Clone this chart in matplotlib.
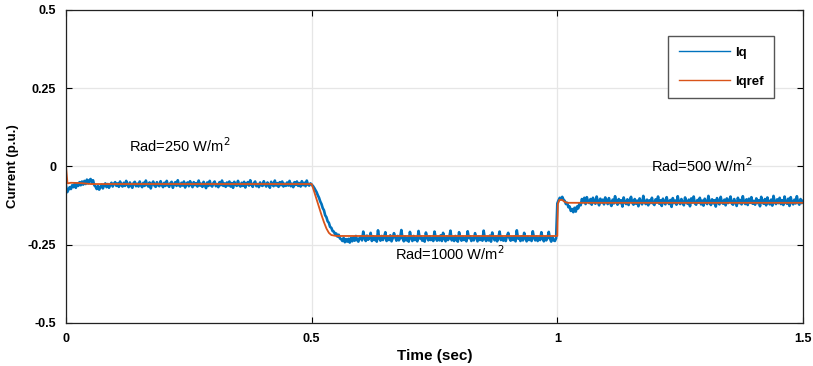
import matplotlib.pyplot as plt
import numpy as np

plt.rcParams['font.family'] = ['Liberation Sans', 'DejaVu Sans']

# Iq samples every 2.5 ms from 0 to 1.5 s, in milli p.u.
iq_milli = [
    -62, -82, -74, -66, -72, -60, -66, -56, -68, -54, -62, -50, -60, -48, -58, -46, -56, -42, -54, -44,
    -40, -52, -44, -60, -64, -72, -62, -74, -66, -58, -70, -60, -54, -66, -56, -68, -58, -52, -64, -55,
    -50, -62, -54, -65, -48, -60, -64, -52, -62, -46, -58, -66, -51, -61, -68, -53, -49, -63, -55, -64,
    -48, -60, -66, -52, -62, -45, -58, -64, -51, -70, -55, -48, -61, -65, -50, -60, -63, -47, -58, -66,
    -52, -62, -46, -60, -65, -53, -49, -68, -56, -50, -62, -44, -60, -64, -52, -61, -48, -67, -55, -51,
    -63, -47, -58, -66, -50, -60, -53, -64, -45, -61, -55, -65, -49, -58, -69, -51, -62, -46, -60, -64,
    -53, -48, -63, -56, -66, -50, -60, -45, -62, -54, -65, -51, -61, -48, -64, -53, -68, -49, -58, -62,
    -46, -60, -64, -52, -62, -49, -67, -55, -50, -61, -44, -58, -65, -53, -48, -63, -56, -66, -51, -60,
    -62, -47, -57, -64, -51, -60, -68, -49, -58, -63, -45, -61, -53, -65, -50, -60, -48, -64, -55, -62,
    -51, -61, -46, -63, -55, -66, -50, -59, -48, -62, -53, -64, -47, -60, -52, -63, -45, -58, -61, -54,
    -58, -62, -68, -75, -82, -92, -100, -112, -120, -133, -140, -156, -162, -175, -180, -193, -196, -206, -208, -216,
    -214, -224, -218, -230, -232, -238, -228, -242, -232, -240, -231, -243, -228, -239, -226, -237, -222, -235, -240, -228,
    -224, -236, -208, -227, -238, -221, -234, -228, -212, -238, -223, -235, -226, -240, -204, -229, -237, -222, -235, -225,
    -210, -238, -227, -235, -220, -239, -229, -213, -226, -237, -222, -236, -228, -203, -230, -239, -224, -236, -227, -240,
    -209, -228, -238, -222, -235, -227, -239, -206, -230, -224, -237, -228, -240, -211, -226, -236, -223, -235, -228, -238,
    -208, -227, -237, -225, -236, -220, -238, -212, -229, -239, -224, -235, -227, -205, -236, -226, -238, -222, -234, -240,
    -210, -228, -237, -224, -235, -227, -239, -207, -229, -223, -238, -228, -236, -213, -226, -239, -224, -235, -227, -237,
    -205, -230, -238, -225, -236, -221, -240, -211, -228, -236, -224, -239, -227, -208, -235, -225, -237, -228, -238, -222,
    -212, -229, -237, -226, -235, -224, -239, -204, -230, -227, -238, -223, -236, -212, -228, -239, -225, -235, -227, -238,
    -207, -228, -236, -224, -238, -227, -235, -210, -229, -239, -225, -236, -228, -209, -230, -240, -226, -236, -238, -229,
    -118, -108, -100, -104, -97, -106, -110, -120, -116, -130, -128, -142, -136, -146, -132, -144, -128, -134, -118, -124,
    -104, -114, -100, -120, -98, -112, -117, -104, -122, -100, -114, -119, -96, -112, -124, -103, -115, -106, -121, -99,
    -109, -120, -101, -116, -126, -106, -118, -95, -114, -122, -104, -117, -108, -128, -99, -115, -120, -105, -123, -107,
    -97, -116, -122, -104, -119, -109, -127, -102, -115, -121, -94, -114, -120, -106, -124, -108, -117, -100, -118, -123,
    -105, -115, -96, -119, -108, -126, -103, -116, -121, -98, -114, -120, -107, -129, -101, -117, -109, -122, -95, -115,
    -120, -104, -117, -124, -99, -114, -119, -106, -127, -102, -115, -96, -118, -122, -107, -116, -100, -121, -109, -125,
    -103, -115, -120, -94, -114, -123, -105, -118, -108, -128, -101, -116, -121, -97, -115, -119, -106, -124, -102, -117,
    -109, -96, -118, -122, -104, -115, -126, -100, -117, -107, -121, -95, -114, -120, -105, -123, -103, -116, -98, -119,
    -110, -122, -102, -117, -108, -127, -97, -115, -119, -104, -124, -99, -116, -121, -106, -125, -94, -114, -120, -105,
    -117, -100, -120, -108, -123, -96, -115, -119, -103, -126, -98, -116, -121, -106, -118, -95, -115, -122, -104, -117,
    -110,
]
t_iq = np.linspace(0, 1.5, len(iq_milli))
iq = np.array(iq_milli) / 1000

# Iqref breakpoints
ref_t = [0, 0.003, 0.01, 0.03, 0.05, 0.5, 0.505, 0.51, 0.515, 0.52, 0.525, 0.53, 0.535,
         0.54, 0.55, 0.57, 1.0, 1.001, 1.004, 1.01, 1.015, 1.02, 1.5]
ref_v = [0, -0.054, -0.052, -0.053, -0.056, -0.056, -0.080, -0.105, -0.130, -0.155, -0.178,
         -0.198, -0.212, -0.219, -0.222, -0.222, -0.222, -0.12, -0.107, -0.107, -0.113, -0.116, -0.116]

fig = plt.figure(figsize=(8.13, 3.66), dpi=100)
ax = fig.add_axes([0.0812, 0.1175, 0.9065, 0.8552])

ax.plot(t_iq, iq, color='#0072BD', lw=1.9, label='Iq')
ax.plot(ref_t, ref_v, color='#D95319', lw=1.3, label='Iqref')

ax.set_xlim(0, 1.5)
ax.set_ylim(-0.5, 0.5)
ax.set_xticks([0, 0.5, 1, 1.5])
ax.set_xticklabels(['0', '0.5', '1', '1.5'])
ax.set_yticks([-0.5, -0.25, 0, 0.25, 0.5])
ax.set_yticklabels(['-0.5', '-0.25', '0', '0.25', '0.5'])
ax.tick_params(direction='in', top=True, right=True, length=4, labelsize=9, pad=7)
for lab in ax.get_xticklabels() + ax.get_yticklabels():
    lab.set_fontweight('bold')
ax.grid(True, color='#e6e6e6', lw=0.9)
ax.set_axisbelow(True)
for s in ax.spines.values():
    s.set_linewidth(0.9)
    s.set_color('#222222')

ax.set_xlabel('Time (sec)', fontsize=11, fontweight='bold', labelpad=3)
ax.set_ylabel('Current (p.u.)', fontsize=9.5, fontweight='bold', labelpad=6)

ax.text(0.128, 0.066, 'Rad=250 W/m$^2$', fontsize=10.5, va='center')
ax.text(0.67, -0.28, 'Rad=1000 W/m$^2$', fontsize=10.5, va='center')
ax.text(1.19, 0.003, 'Rad=500 W/m$^2$', fontsize=10.5, va='center')

leg = ax.legend(loc='upper left', bbox_to_anchor=(668 / 813, 1 - 36 / 366), bbox_transform=fig.transFigure,
                borderaxespad=0, fancybox=False, framealpha=1, edgecolor='#555555', handlelength=3.9,
                handletextpad=0.4, labelspacing=1.25, borderpad=0.8,
                prop={'weight': 'bold', 'size': 9.5})
leg.get_frame().set_linewidth(1.0)
for h in leg.get_lines():
    h.set_linewidth(1.0)

plt.savefig('out.png', dpi=100)
